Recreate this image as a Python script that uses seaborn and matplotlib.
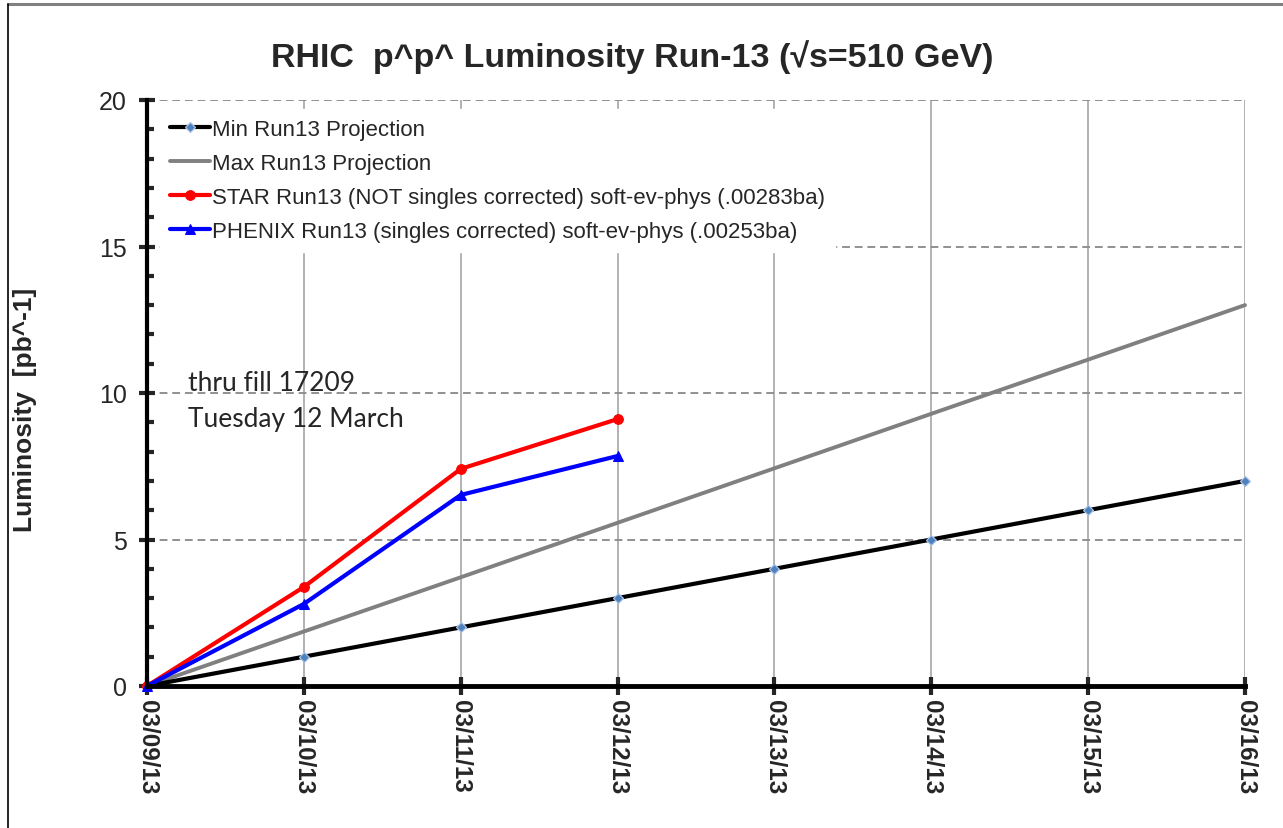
import pandas as pd
import matplotlib
matplotlib.use("Agg")
import matplotlib.pyplot as plt
import matplotlib.dates as mdates
from matplotlib.lines import Line2D
from matplotlib.ticker import MultipleLocator
import seaborn as sns

# ==========================================
# Data
# ==========================================
dates = pd.to_datetime([
    "2013-03-09", "2013-03-10", "2013-03-11", "2013-03-12",
    "2013-03-13", "2013-03-14", "2013-03-15", "2013-03-16",
])
min_proj = [0, 1, 2, 3, 4, 5, 6, 7]
max_proj = [0, 1.86, 3.71, 5.57, 7.43, 9.29, 11.14, 13.0]

run_dates = dates[:4]
star_lumi = [0, 3.38, 7.41, 9.11]
phenix_lumi = [0, 2.80, 6.52, 7.85]

labels = [
    "Min Run13 Projection",
    "Max Run13 Projection",
    "STAR Run13 (NOT singles corrected) soft-ev-phys (.00283ba)",
    "PHENIX Run13 (singles corrected) soft-ev-phys (.00253ba)",
]

# ==========================================
# Style
# ==========================================
sns.set_style("white")
plt.rcParams["font.family"] = ["Liberation Sans", "DejaVu Sans"]

fig = plt.figure(figsize=(12.83, 8.29), dpi=100)
ax = fig.add_axes([147 / 1283, 1 - 687 / 829, 1098 / 1283, 586 / 829])

# ==========================================
# Lines
# ==========================================
sns.lineplot(x=dates, y=min_proj, ax=ax, color="black", linewidth=3,
             marker="D", markersize=5.5, markerfacecolor="#4F81BD",
             markeredgecolor="#A9C4E8", markeredgewidth=0.9,
             label=labels[0], clip_on=False, zorder=4)
sns.lineplot(x=dates, y=max_proj, ax=ax, color="#808080", linewidth=2.8,
             label=labels[1], clip_on=False, zorder=3)
sns.lineplot(x=run_dates, y=star_lumi, ax=ax, color="#FF0000", linewidth=3,
             marker="o", markersize=7, markeredgecolor="#FF0000",
             label=labels[2], clip_on=False, zorder=5)
sns.lineplot(x=run_dates, y=phenix_lumi, ax=ax, color="#0000FF", linewidth=3,
             marker="^", markersize=7, markeredgecolor="#0000FF",
             label=labels[3], clip_on=False, zorder=6)

# ==========================================
# Axes
# ==========================================
ax.set_xlim(dates[0], dates[-1])
ax.set_ylim(0, 20)
ax.xaxis.set_major_locator(mdates.DayLocator())
ax.xaxis.set_major_formatter(mdates.DateFormatter("%m/%d/%y"))
ax.yaxis.set_major_locator(MultipleLocator(5))
ax.yaxis.set_minor_locator(MultipleLocator(1))

for side in ["top", "right"]:
    ax.spines[side].set_visible(False)
ax.spines["left"].set_linewidth(3)
ax.spines["bottom"].set_linewidth(3.5)
ax.spines["left"].set_color("black")
ax.spines["bottom"].set_color("black")
ax.spines["left"].set_zorder(7)
ax.spines["bottom"].set_zorder(7)

ax.tick_params(axis="y", which="major", direction="inout", length=11,
               width=3, labelsize=18, pad=9, left=True)
ax.tick_params(axis="y", which="minor", direction="in", length=5,
               width=3, left=True)
ax.tick_params(axis="x", which="major", direction="inout", length=13,
               width=3, labelsize=17.5, pad=3, bottom=True)
for t in ax.get_xticklabels():
    t.set_rotation(-90)
    t.set_fontweight("bold")
    t.set_va("top")
    t.set_ha("center")

ax.yaxis.grid(True, which="major", color="#909090", linestyle=(0, (4, 2.5)),
              linewidth=1.4)
ax.xaxis.grid(True, which="major", color="#A6A6A6", linestyle="-",
              linewidth=1.2)
ax.set_axisbelow(True)
ax.set_xlabel("")
ax.set_ylabel("")

# ==========================================
# Legend & annotations
# ==========================================
leg = ax.legend(loc="upper left", bbox_to_anchor=(0.0118, 0.9846),
                borderaxespad=0, frameon=True, facecolor="white",
                edgecolor="white", framealpha=1, fancybox=False, fontsize=16,
                handlelength=1.8, handletextpad=0.1, labelspacing=0.58,
                borderpad=0.45)
leg.set_zorder(10)

ax.text(41 / 1098, 0.488, "thru fill 17209\nTuesday 12 March",
        transform=ax.transAxes, fontsize=19, family=["Lato", "DejaVu Sans"],
        va="center", ha="left", linespacing=1.55, zorder=8)

fig.text(0.493, 0.931, "RHIC  p^p^ Luminosity Run-13 (\u221as=510 GeV)",
         ha="center", va="center", fontsize=24.5, fontweight="bold")
fig.text(25 / 1283, 0.505, "Luminosity  [pb^-1]", rotation=90,
         ha="center", va="center", fontsize=19, fontweight="bold")

# outer chart border
fig.add_artist(Line2D([8 / 1283, 1], [1 - 5 / 829, 1 - 5 / 829],
                      transform=fig.transFigure, color="#808080", linewidth=2.2))
fig.add_artist(Line2D([8 / 1283, 8 / 1283], [0, 1 - 5 / 829],
                      transform=fig.transFigure, color="black", linewidth=1.2))

fig.savefig("out.png", dpi=100)
plt.close(fig)
